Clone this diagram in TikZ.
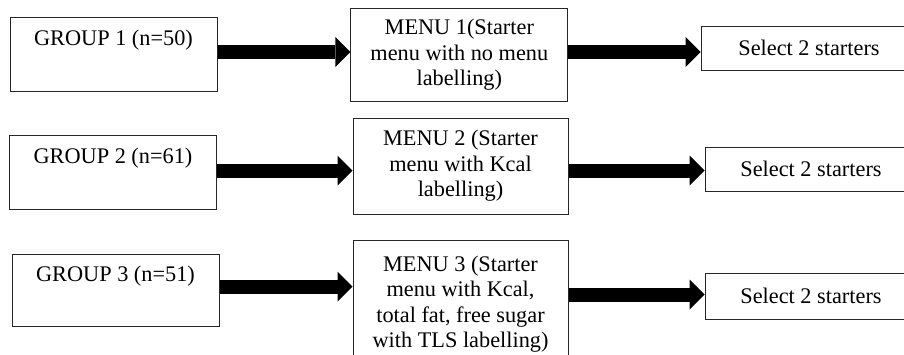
\documentclass[tikz,border=0pt]{standalone}
\usepackage{fontspec}
\setmainfont{Liberation Serif}
\usetikzlibrary{arrows.meta}
\begin{document}
\begin{tikzpicture}[x=1pt, y=-1pt,
  box/.style={draw=black!85, line width=1pt, inner sep=0pt, align=center,
    font=\fontsize{22.3pt}{25.5pt}\selectfont},
  groupbox/.style={box, minimum width=207pt, minimum height=74pt,
    text height=15pt, text depth=33pt},
  menubox/.style={box, minimum width=215pt},
  pickbox/.style={box, minimum width=212pt, minimum height=44pt},
  flow/.style={black, line width=14pt,
    -{Triangle[length=15pt, width=30pt, line width=0pt]}}
]
\useasboundingbox (0,0) rectangle (904,354);
\clip (0,0) rectangle (904,354);

% study groups
\node[groupbox] (g1) at (113.5,54) {GROUP 1 (n=50)};
\node[groupbox] (g2) at (113,172) {GROUP 2 (n=61)};
\node[groupbox, minimum height=72pt] (g3) at (115.5,290) {GROUP 3 (n=51)};

% menus shown to each group
\node[menubox, minimum width=216.7pt, minimum height=93.4pt] (m1) at (459.3,55)
  {MENU 1(Starter\\menu with no menu\\labelling)};
\node[menubox, minimum height=96pt] (m2) at (460.5,166)
  {MENU 2 (Starter\\menu with Kcal\\labelling)};
\node[menubox, minimum height=128pt] (m3) at (460.5,304)
  {MENU 3 (Starter\\menu with Kcal,\\total fat, free sugar\\with TLS labelling)};

% task
\node[pickbox, minimum width=216pt] (s1) at (809,48) {Select 2 starters};
\node[pickbox] (s2) at (811,169) {Select 2 starters};
\node[pickbox, minimum height=46pt] (s3) at (811,296) {Select 2 starters};

% arrow heights
\coordinate (r1) at (0,52);
\coordinate (r2) at (0,170.5);
\coordinate (r3a) at (0,286.5);
\coordinate (r3b) at (0,294.5);

\draw[flow] (g1.east |- r1) -- (m1.west |- r1);
\draw[flow] (m1.east |- r1) -- (s1.west |- r1);
\draw[flow] (g2.east |- r2) -- (m2.west |- r2);
\draw[flow] (m2.east |- r2) -- (s2.west |- r2);
\draw[flow] (g3.east |- r3a) -- (m3.west |- r3a);
\draw[flow] (m3.east |- r3b) -- (s3.west |- r3b);
\end{tikzpicture}
\end{document}
